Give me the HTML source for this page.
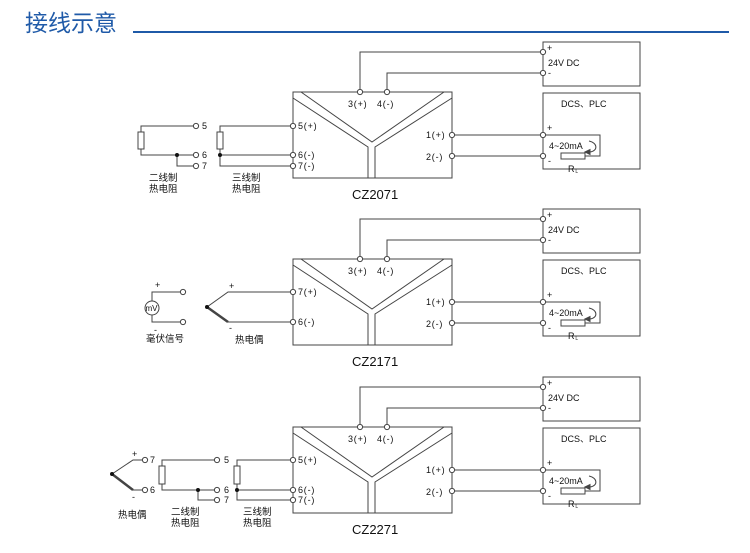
<!DOCTYPE html>
<html><head><meta charset="utf-8"><style>
html,body{margin:0;padding:0;background:#fff;width:750px;height:553px;overflow:hidden}
svg{display:block}
text{font-family:"Liberation Sans","Noto Sans CJK SC",sans-serif;fill:#111}
.s{font-size:9.5px}
.c{font-family:"Liberation Sans","Noto Sans CJK SC",sans-serif;font-size:9px;letter-spacing:0.8px}
.t{font-size:13px}
</style></head><body>
<svg width="750" height="553" viewBox="0 0 750 553" xmlns="http://www.w3.org/2000/svg">
<defs>
<g id="core" stroke="#444" stroke-width="1" fill="none">
  <rect x="293" y="92" width="159" height="86"/>
  <polyline points="301,92 372,142 444,92"/>
  <polyline points="293,98 368,147 368,178"/>
  <polyline points="452,98 375,147 375,178"/>
  <polyline points="360,92 360,52 543,52"/>
  <polyline points="387,92 387,73 543,73"/>
  <line x1="452" y1="135" x2="543" y2="135"/>
  <line x1="452" y1="156" x2="543" y2="156"/>
  <rect x="543" y="42" width="97" height="44"/>
  <rect x="543" y="93" width="97" height="76"/>
  <polyline points="543,135 600,135 600,156 585,156"/>
  <rect x="561" y="153" width="24" height="6"/>
  <path d="M589,141 C598,143 598,151 590,152"/>
  <path d="M585,152 L590,149.5 L590,154.5 Z" fill="#444"/>
  <g fill="#fff">
    <circle cx="360" cy="92" r="2.6"/><circle cx="387" cy="92" r="2.6"/>
    <circle cx="452" cy="135" r="2.6"/><circle cx="452" cy="156" r="2.6"/>
    <circle cx="543" cy="52" r="2.6"/><circle cx="543" cy="73" r="2.6"/>
    <circle cx="543" cy="135" r="2.6"/><circle cx="543" cy="156" r="2.6"/>
  </g>
</g>
<g id="txt">
  <text class="c" x="348" y="107">3(+)</text>
  <text class="c" x="377" y="107">4(-)</text>
  <text class="c" x="426" y="138">1(+)</text>
  <text class="c" x="426" y="160">2(-)</text>
  <text class="c" x="547" y="51">+</text>
  <text class="c" x="548" y="66" style="letter-spacing:0">24V DC</text>
  <text class="c" x="548" y="76">-</text>
  <text class="c" x="561" y="107" style="letter-spacing:0">DCS、PLC</text>
  <text class="c" x="547" y="131">+</text>
  <text class="c" x="549" y="149" style="letter-spacing:0">4~20mA</text>
  <text class="c" x="548" y="164">-</text>
  <text class="c" x="568" y="172">R<tspan font-size="5" dy="1">L</tspan></text>
</g>
</defs>

<text x="25" y="31" style="font-size:23px;fill:#1f5aa8">接线示意</text>
<rect x="133" y="31" width="596" height="2" fill="#1f5aa8"/>

<!-- Section 1 -->
<use href="#core"/><use href="#txt"/>
<text class="t" x="352" y="199">CZ2071</text>
<g stroke="#444" fill="none">
  <polyline points="141,132 141,126 196,126"/>
  <rect x="138" y="132" width="6" height="17"/>
  <polyline points="141,149 141,155 196,155"/>
  <polyline points="177,155 177,166 196,166"/>
  <polyline points="220,132 220,126 293,126"/>
  <rect x="217" y="132" width="6" height="17"/>
  <polyline points="220,149 220,155 293,155"/>
  <polyline points="220,155 220,166 293,166"/>
  <g fill="#fff"><circle cx="196" cy="126" r="2.6"/><circle cx="196" cy="155" r="2.6"/><circle cx="196" cy="166" r="2.6"/>
  <circle cx="293" cy="126" r="2.6"/><circle cx="293" cy="155" r="2.6"/><circle cx="293" cy="166" r="2.6"/></g>
</g>
<circle cx="177" cy="155" r="2" fill="#111"/><circle cx="220" cy="155" r="2" fill="#111"/>
<text class="c" x="202" y="129">5</text><text class="c" x="202" y="158">6</text><text class="c" x="202" y="169">7</text>
<text class="c" x="298" y="129">5(+)</text><text class="c" x="298" y="158">6(-)</text><text class="c" x="298" y="169">7(-)</text>
<text class="s" x="149" y="181">二线制</text><text class="s" x="149" y="192">热电阻</text>
<text class="s" x="232" y="181">三线制</text><text class="s" x="232" y="192">热电阻</text>

<!-- Section 2 -->
<g transform="translate(0,167)"><use href="#core"/><use href="#txt"/></g>
<text class="t" x="352" y="366">CZ2171</text>
<g stroke="#444" fill="none">
  <circle cx="152" cy="308" r="7"/>
  <polyline points="152,301 152,292 183,292"/>
  <polyline points="152,315 152,322 183,322"/>
  <polyline points="207,307 228,292 293,292"/>
  <line x1="207" y1="307" x2="228" y2="322" stroke-width="2.5"/>
  <line x1="228" y1="322" x2="293" y2="322"/>
  <g fill="#fff"><circle cx="183" cy="292" r="2.6"/><circle cx="183" cy="322" r="2.6"/>
  <circle cx="293" cy="292" r="2.6"/><circle cx="293" cy="322" r="2.6"/></g>
</g>
<circle cx="207" cy="307" r="2" fill="#111"/>
<text x="145.5" y="311" style="font-size:8px">mV</text>
<text class="c" x="155" y="288">+</text><text class="c" x="154" y="333">-</text>
<text class="c" x="229" y="289">+</text><text class="c" x="229" y="331">-</text>
<text class="c" x="298" y="295">7(+)</text><text class="c" x="298" y="325">6(-)</text>
<text class="s" x="146" y="342">毫伏信号</text><text class="s" x="235" y="343">热电偶</text>

<!-- Section 3 -->
<g transform="translate(0,335)"><use href="#core"/><use href="#txt"/></g>
<text class="t" x="352" y="534">CZ2271</text>
<g stroke="#444" fill="none">
  <polyline points="112,474 133,460 145,460"/>
  <line x1="112" y1="474" x2="133" y2="490" stroke-width="2.5"/>
  <line x1="133" y1="490" x2="145" y2="490"/>
  <polyline points="162,466 162,460 217,460"/>
  <rect x="159" y="466" width="6" height="18"/>
  <polyline points="162,484 162,490 217,490"/>
  <polyline points="198,490 198,500 217,500"/>
  <polyline points="237,466 237,460 293,460"/>
  <rect x="234" y="466" width="6" height="18"/>
  <polyline points="237,484 237,490 293,490"/>
  <polyline points="237,490 237,500 293,500"/>
  <g fill="#fff"><circle cx="145" cy="460" r="2.6"/><circle cx="145" cy="490" r="2.6"/>
  <circle cx="217" cy="460" r="2.6"/><circle cx="217" cy="490" r="2.6"/><circle cx="217" cy="500" r="2.6"/>
  <circle cx="293" cy="460" r="2.6"/><circle cx="293" cy="490" r="2.6"/><circle cx="293" cy="500" r="2.6"/></g>
</g>
<circle cx="112" cy="474" r="2" fill="#111"/><circle cx="198" cy="490" r="2" fill="#111"/><circle cx="237" cy="490" r="2" fill="#111"/>
<text class="c" x="132" y="457">+</text><text class="c" x="132" y="500">-</text>
<text class="c" x="150" y="463">7</text><text class="c" x="150" y="493">6</text>
<text class="c" x="224" y="463">5</text><text class="c" x="224" y="493">6</text><text class="c" x="224" y="503">7</text>
<text class="c" x="298" y="463">5(+)</text><text class="c" x="298" y="493">6(-)</text><text class="c" x="298" y="503">7(-)</text>
<text class="s" x="118" y="518">热电偶</text>
<text class="s" x="171" y="515">二线制</text><text class="s" x="171" y="526">热电阻</text>
<text class="s" x="243" y="515">三线制</text><text class="s" x="243" y="526">热电阻</text>
</svg>
</body></html>
